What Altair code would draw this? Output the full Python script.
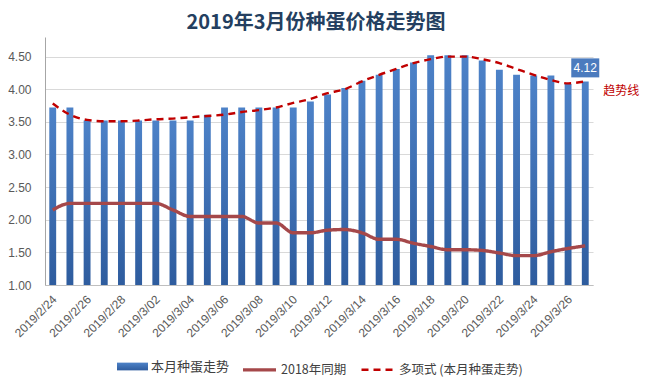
import altair as alt
import pandas as pd

dates = ["2019/2/24", "2019/2/25", "2019/2/26", "2019/2/27", "2019/2/28",
         "2019/3/01", "2019/3/02", "2019/3/03", "2019/3/04", "2019/3/05",
         "2019/3/06", "2019/3/07", "2019/3/08", "2019/3/09", "2019/3/10",
         "2019/3/11", "2019/3/12", "2019/3/13", "2019/3/14", "2019/3/15",
         "2019/3/16", "2019/3/17", "2019/3/18", "2019/3/19", "2019/3/20",
         "2019/3/21", "2019/3/22", "2019/3/23", "2019/3/24", "2019/3/25",
         "2019/3/26", "2019/3/27"]
current = [3.72, 3.72, 3.52, 3.52, 3.52, 3.52, 3.52, 3.52, 3.52, 3.61,
           3.72, 3.72, 3.72, 3.72, 3.72, 3.81, 3.92, 4.02, 4.13, 4.22,
           4.31, 4.41, 4.52, 4.52, 4.52, 4.44, 4.30, 4.22, 4.21, 4.21,
           4.08, 4.12]
prev_year = [2.15, 2.25, 2.25, 2.25, 2.25, 2.25, 2.25, 2.15, 2.05, 2.05,
             2.05, 2.05, 1.95, 1.95, 1.80, 1.80, 1.84, 1.85, 1.80, 1.70,
             1.70, 1.64, 1.59, 1.54, 1.54, 1.53, 1.49, 1.45, 1.45, 1.51,
             1.56, 1.60]
trend = [3.78, 3.61, 3.53, 3.51, 3.51, 3.52, 3.54, 3.55, 3.57, 3.59,
         3.61, 3.65, 3.68, 3.72, 3.79, 3.85, 3.94, 4.00, 4.12, 4.22,
         4.31, 4.40, 4.46, 4.50, 4.50, 4.46, 4.40, 4.31, 4.22, 4.14,
         4.09, 4.12]
y_ticks = [1.0, 1.5, 2.0, 2.5, 3.0, 3.5, 4.0, 4.5]

S_CUR = "本月种蛋走势"
S_PREV = "2018年同期"
S_TREND = "多项式 (本月种蛋走势)"
TITLE = "2019年3月份种蛋价格走势图"
NOTE = "趋势线"

df = pd.DataFrame({"d": dates, "cur": current, "prev": prev_year, "trend": trend})
last = df.tail(1)

CJK = "Noto Sans CJK SC"
LAT = "Liberation Sans"

x_axis = alt.Axis(values=dates[::2], labelAngle=-45, labelAlign="right",
                  labelBaseline="middle", labelPadding=12, labelOffset=2,
                  ticks=False, title=None, labelFont=LAT, labelFontSize=12,
                  labelColor="#595959", domainColor="#BFBFBF", grid=False)
x_scale = alt.Scale(paddingInner=0.6, paddingOuter=0.25)
y_scale = alt.Scale(domain=[1.0, 4.8], nice=False, zero=False)
y_axis = alt.Axis(values=y_ticks, format=".2f", title=None, ticks=False, labelPadding=14,
                  labelFont=LAT, labelFontSize=12, labelColor="#595959",
                  domainColor="#A6A6A6", gridColor="#D9D9D9", labelOverlap=False)


def X():
    return alt.X("d:N", sort=dates, scale=x_scale, axis=x_axis)


def Y(field):
    return alt.Y(field, scale=y_scale, axis=y_axis)


grad = alt.Gradient(gradient="linear", x1=0, x2=0, y1=0, y2=1,
                    stops=[alt.GradientStop(color="#4D82C8", offset=0),
                           alt.GradientStop(color="#2E5C9E", offset=1)])

bars = alt.Chart(df).mark_bar(fill=grad).encode(
    x=X(),
    y=Y("cur:Q"),
    y2=alt.datum(1.0),
    opacity=alt.Opacity("s:N", scale=alt.Scale(domain=[S_CUR], range=[1]),
                        legend=alt.Legend(orient="none", legendX=72, legendY=314, title=None,
                                          symbolType="M-1,-0.25H1V0.25H-1Z", symbolSize=961,
                                          symbolFillColor="#3A6AB0", symbolStrokeWidth=0,
                                          labelFont=CJK, labelFontSize=13, labelColor="#404040",
                                          labelOffset=3)),
).transform_calculate(s=f"'{S_CUR}'")

line_legend = alt.Legend(orient="none", legendX=196, legendY=314, title=None,
                         direction="horizontal", symbolType="stroke", symbolSize=1089,
                         symbolStrokeWidth=2.2, labelFont=CJK, labelFontSize=12.5,
                         labelColor="#404040", labelOffset=3, columnPadding=9)

lines = alt.Chart(df).transform_fold(["prev", "trend"], as_=["k", "v"]).transform_calculate(
    series=f"datum.k == 'prev' ? '{S_PREV}' : '{S_TREND}'"
).mark_line(interpolate="monotone").encode(
    x=X(),
    y=Y("v:Q"),
    color=alt.Color("series:N", scale=alt.Scale(domain=[S_PREV, S_TREND],
                                                range=["#A5484A", "#C00000"]),
                    legend=line_legend),
    strokeDash=alt.StrokeDash("series:N", scale=alt.Scale(domain=[S_PREV, S_TREND],
                                                          range=[[1, 0], [7, 5]]),
                              legend=line_legend),
    strokeWidth=alt.StrokeWidth("series:N", scale=alt.Scale(domain=[S_PREV, S_TREND],
                                                            range=[3.4, 2.4]),
                                legend=None),
)

box = alt.Chart(last).mark_point(shape="M-0.56,-0.92H0.56V-0.16H-0.56Z", size=2500,
                                 filled=True, fill="#4B7BBE", opacity=1, strokeWidth=0).encode(
    x=X(), y=Y("cur:Q"))
box_text = alt.Chart(last).mark_text(dy=-13, color="white", font=LAT, fontSize=12,
                                     baseline="middle").encode(
    x=X(), y=Y("cur:Q"),
    text=alt.Text("cur:Q", format=".2f"))
note = alt.Chart(last).mark_text(dx=36, dy=10, color="#C00000", font=CJK, fontSize=12,
                                 baseline="middle").encode(
    x=X(), y=Y("trend:Q"),
    text=alt.value(NOTE))

chart = alt.layer(bars, lines, box, box_text, note).resolve_legend(
    opacity="independent", color="shared").properties(
    width=548, height=248,
    autosize="none",
    padding={"left": 37, "top": 29, "right": 49, "bottom": 93},
    title=alt.Title(TITLE, font=CJK, fontSize=20, fontWeight="bold", color="#243F60",
                    anchor="middle", offset=4, dx=-3),
    background="white",
).configure_view(stroke=None)

chart.save("out.html", embed_options={"renderer": "svg", "actions": False})
